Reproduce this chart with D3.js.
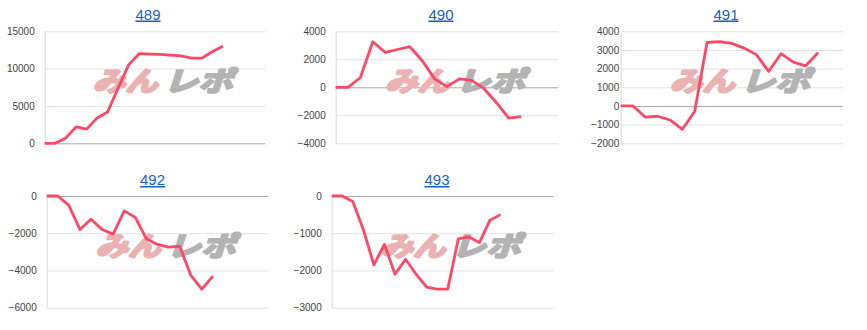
<!DOCTYPE html>
<html>
<head>
<meta charset="utf-8">
<script src="https://cdn.jsdelivr.net/npm/d3@7"></script>
<style>
  body { margin: 0; background: #fff; }
  .tickText { font-family: "Liberation Sans", Arial, sans-serif; font-size: 10px; fill: #444; }
  .title { font-family: "Liberation Sans", Arial, sans-serif; font-size: 15px; fill: #1a5fc8; text-decoration: underline; }
</style>
</head>
<body>
<div id="chart"></div>
<script>
// machine numbers
let titles = ["489", "490", "491", "492", "493"];

// running totals per machine
let d489 = [0, 0, 700, 2200, 1900, 3400, 4200, 7400, 10500, 12000, 11950, 11900, 11800, 11700, 11400, 11400, 12300, 13000];
let d490 = [0, 0, 700, 3250, 2500, 2700, 2900, 1900, 600, 50, 600, 500, -100, -1100, -2200, -2100];
let d491 = [0, 0, -600, -550, -750, -1250, -300, 3400, 3450, 3350, 3100, 2750, 1850, 2800, 2350, 2150, 2850];
let d492 = [0, 0, -500, -1800, -1250, -1800, -2050, -800, -1150, -2300, -2600, -2750, -2700, -4250, -5000, -4300];
let d493 = [0, 0, -150, -900, -1850, -1300, -2100, -1700, -2100, -2450, -2500, -2500, -1150, -1100, -1250, -650, -500];

// y ticks per chart
let ticks489 = [0, 5000, 10000, 15000];
let ticks490 = [-4000, -2000, 0, 2000, 4000];
let ticks491 = [-2000, -1000, 0, 1000, 2000, 3000, 4000];
let ticks492 = [-6000, -4000, -2000, 0];
let ticks493 = [-3000, -2000, -1000, 0];

let seriesList = [d489, d490, d491, d492, d493];
let tickList = [ticks489, ticks490, ticks491, ticks492, ticks493];

// layout for each small chart
const panels = [
    { x0: 44.7, x1: 265, y0: 31.3, y1: 143.3, tx: 148, ty: 19.5, slots: 21, gap: 10 },
    { x0: 335.7, x1: 558.3, y0: 31.3, y1: 143.3, tx: 441, ty: 19.5, slots: 18, gap: 10 },
    { x0: 620.7, x1: 842.7, y0: 31.3, y1: 143.3, tx: 726, ty: 19.5, slots: 18, gap: 1.5 },
    { x0: 46.7, x1: 268.3, y0: 196, y1: 307.7, tx: 152.5, ty: 185, slots: 20, gap: 10 },
    { x0: 331.7, x1: 553.3, y0: 196, y1: 307.7, tx: 437, ty: 185, slots: 21, gap: 10 }
];

const lineColor = "#ff4766";

let svg = d3.select("#chart")
    .append("svg")
    .attr("width", 867)
    .attr("height", 330);

for (let i = 0; i < titles.length; i++) {
    let p = panels[i];
    let values = seriesList[i];
    let tickVals = tickList[i];

    let x = d3.scaleLinear([0, p.slots], [p.x0, p.x1]);
    let y = d3.scaleLinear(d3.extent(tickVals), [p.y1, p.y0]);

    let g = svg.append("g");

    // gridlines + labels
    let yAxis = d3.axisLeft(y)
        .tickValues(tickVals)
        .tickSize(-(p.x1 - p.x0))
        .tickSizeOuter(0)
        .tickPadding(p.gap)
        .tickFormat(d3.format("d"));

    let axisG = g.append("g")
        .attr("transform", `translate(${p.x0}, 0)`)
        .call(yAxis);

    axisG.select(".domain").attr("stroke", "#d9d9d9").attr("stroke-width", 1);
    axisG.selectAll(".tick line")
        .attr("stroke", d => d == 0 ? "#a8a8a8" : "#e2e2e2")
        .attr("stroke-width", 1);
    axisG.selectAll(".tick text")
        .attr("class", "tickText")
        .attr("fill", null);
    // zero line drawn on top of the others
    axisG.selectAll(".tick").filter(d => d == 0).raise();

    // watermark logo
    let cx = (p.x0 + p.x1) / 2 + 8;
    let cy = (p.y0 + p.y1) / 2 + 4;
    let logo = g.append("g")
        .attr("font-family", "'Noto Sans CJK JP', sans-serif")
        .attr("font-weight", "bold")
        .attr("font-style", "italic")
        .attr("font-size", 27)
        .attr("stroke-width", 2.2)
        .attr("stroke-linejoin", "round");
    logo.append("text")
        .attr("x", cx - 70)
        .attr("y", cy)
        .attr("textLength", 65)
        .attr("lengthAdjust", "spacingAndGlyphs")
        .attr("fill", "#eab2b2")
        .attr("stroke", "#eab2b2")
        .text("みん");
    logo.append("text")
        .attr("x", cx + 1)
        .attr("y", cy)
        .attr("textLength", 69)
        .attr("lengthAdjust", "spacingAndGlyphs")
        .attr("fill", "#b3b3b3")
        .attr("stroke", "#b3b3b3")
        .text("レポ");

    // line
    let line = d3.line()
        .x((d, j) => x(j))
        .y(d => y(d));

    g.append("path")
        .datum(values)
        .attr("fill", "none")
        .attr("stroke", lineColor)
        .attr("stroke-width", 2.8)
        .attr("stroke-linejoin", "round")
        .attr("d", line);

    // title
    svg.append("text")
        .attr("class", "title")
        .attr("x", p.tx)
        .attr("y", p.ty)
        .attr("text-anchor", "middle")
        .text(titles[i]);
}
</script>
</body>
</html>
